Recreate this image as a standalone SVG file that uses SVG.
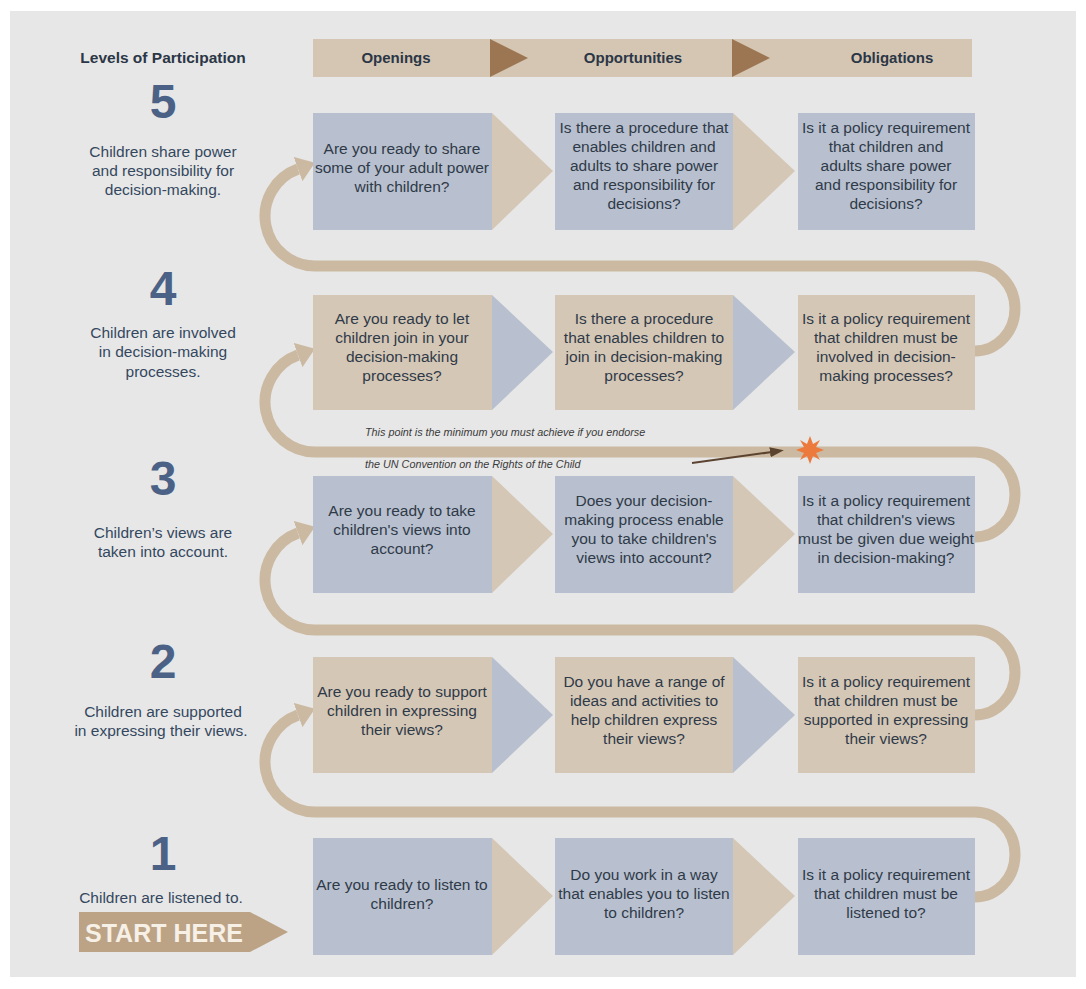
<svg xmlns="http://www.w3.org/2000/svg" width="1086" height="989" viewBox="0 0 1086 989">
<style>
.bg{fill:#e7e7e7}
.hdr{fill:#d5c6b3}
.hdrtri{fill:#9c7652}
.blue{fill:#b8c0cf}
.tan{fill:#d5c7b6}
.tt{font-family:"Liberation Sans",Arial,sans-serif;font-size:15.5px;fill:#2f3a48;text-anchor:middle}
.ht{font-family:"Liberation Sans",Arial,sans-serif;font-size:15px;font-weight:bold;fill:#2b3646;text-anchor:middle}
.num{font-family:"Liberation Sans",Arial,sans-serif;font-size:48px;font-weight:bold;fill:#4b6286;text-anchor:middle}
.lv{font-family:"Liberation Sans",Arial,sans-serif;font-size:15.5px;fill:#34475f;text-anchor:middle}
.note{font-family:"Liberation Sans",Arial,sans-serif;font-size:10.8px;font-style:italic;fill:#3a3a3a}
.loop{fill:none;stroke:#ccb9a1;stroke-width:11}
</style>
<defs>
<marker id="ah" markerUnits="userSpaceOnUse" markerWidth="20" markerHeight="26" refX="0" refY="13" orient="auto" viewBox="0 0 20 26">
<path d="M0,0 L18,13 L0,26 z" fill="#ccb9a1"/>
</marker>
<marker id="dah" markerUnits="userSpaceOnUse" markerWidth="14" markerHeight="10" refX="2" refY="5" orient="auto" viewBox="0 0 14 10">
<path d="M0,0 L14,5 L0,10 z" fill="#5b4330"/>
</marker>
</defs>
<rect x="0" y="0" width="1086" height="989" fill="#ffffff"/>
<rect class="bg" x="10" y="11" width="1066" height="966"/>

<g id="header">
<text class="ht" x="163" y="63" style="font-size:15.5px">Levels of Participation</text>
<rect class="hdr" x="313" y="39" width="659" height="38"/>
<polygon class="hdrtri" points="490,39 528,58 490,77"/>
<polygon class="hdrtri" points="732,39 770,58 732,77"/>
<text class="ht" x="396" y="63">Openings</text>
<text class="ht" x="633" y="63">Opportunities</text>
<text class="ht" x="892" y="63">Obligations</text>
</g>

<g id="connectors">
<path class="loop" d="M968 897 L975 897 A40 42.5 0 0 0 975 812 L316 812 A50 50 0 0 1 298 715" marker-end="url(#ah)"/>
<path class="loop" d="M968 715 L975 715 A40 42.5 0 0 0 975 630 L316 630 A50 50 0 0 1 298 533" marker-end="url(#ah)"/>
<path class="loop" d="M968 537 L975 537 A40 42.5 0 0 0 975 452 L316 452 A50 50 0 0 1 298 355" marker-end="url(#ah)"/>
<path class="loop" d="M968 351 L975 351 A40 42.5 0 0 0 975 266 L316 266 A50 50 0 0 1 298 169" marker-end="url(#ah)"/>
</g>

<g id="minimum-note">
<text class="note" x="365" y="436">This point is the minimum you must achieve if you endorse</text>
<text class="note" x="365" y="468">the UN Convention on the Rights of the Child</text>
<line x1="692" y1="463" x2="772" y2="452" stroke="#5b4330" stroke-width="2" marker-end="url(#dah)"/>
<polygon points="810,436 813,444 820,440 816,447 824,450 816,453 820,460 813,456 810,464 807,456 800,460 804,453 796,450 804,447 800,440 807,444" fill="#ec7a3c"/>
</g>

<g id="level5">
<text class="num" x="163" y="118">5</text>
<text class="lv" x="163" y="157">Children share power</text>
<text class="lv" x="163" y="176">and responsibility for</text>
<text class="lv" x="163" y="195">decision-making.</text>
</g>
<g id="level4">
<text class="num" x="163" y="305">4</text>
<text class="lv" x="163" y="338">Children are involved</text>
<text class="lv" x="163" y="357">in decision-making</text>
<text class="lv" x="163" y="377">processes.</text>
</g>
<g id="level3">
<text class="num" x="163" y="495">3</text>
<text class="lv" x="163" y="538">Children’s views are</text>
<text class="lv" x="163" y="557">taken into account.</text>
</g>
<g id="level2">
<text class="num" x="163" y="678">2</text>
<text class="lv" x="163" y="717">Children are supported</text>
<text class="lv" x="161" y="736">in expressing their views.</text>
</g>
<g id="level1">
<text class="num" x="163" y="870">1</text>
<text class="lv" x="161" y="903">Children are listened to.</text>
<polygon points="79,912 250,912 288,932 250,952 79,952" fill="#bca386"/>
<text x="85" y="942" style="font-family:'Liberation Sans',Arial,sans-serif;font-size:25px;font-weight:bold;fill:#f6f0e7">START HERE</text>
</g>

<!-- Row 5 -->
<g id="r5c1">
<polygon class="tan" points="492,113 553,171 492,230"/>
<rect class="blue" x="313" y="113" width="179" height="117"/>
<text class="tt" x="402" y="154">Are you ready to share</text>
<text class="tt" x="402" y="173">some of your adult power</text>
<text class="tt" x="402" y="192">with children?</text>
</g>
<g id="r5c2">
<polygon class="tan" points="733,113 795,171 733,230"/>
<rect class="blue" x="555" y="113" width="178" height="117"/>
<text class="tt" x="644" y="133">Is there a procedure that</text>
<text class="tt" x="644" y="152">enables children and</text>
<text class="tt" x="644" y="171">adults to share power</text>
<text class="tt" x="644" y="190">and responsibility for</text>
<text class="tt" x="644" y="209">decisions?</text>
</g>
<g id="r5c3">
<rect class="blue" x="798" y="113" width="177" height="117"/>
<text class="tt" x="886" y="133">Is it a policy requirement</text>
<text class="tt" x="886" y="152">that children and</text>
<text class="tt" x="886" y="171">adults share power</text>
<text class="tt" x="886" y="190">and responsibility for</text>
<text class="tt" x="886" y="209">decisions?</text>
</g>

<!-- Row 4 -->
<g id="r4c1">
<polygon class="blue" points="492,295 553,352 492,410"/>
<rect class="tan" x="313" y="295" width="179" height="115"/>
<text class="tt" x="402" y="324">Are you ready to let</text>
<text class="tt" x="402" y="343">children join in your</text>
<text class="tt" x="402" y="362">decision-making</text>
<text class="tt" x="402" y="381">processes?</text>
</g>
<g id="r4c2">
<polygon class="blue" points="733,295 795,352 733,410"/>
<rect class="tan" x="555" y="295" width="178" height="115"/>
<text class="tt" x="644" y="324">Is there a procedure</text>
<text class="tt" x="644" y="343">that enables children to</text>
<text class="tt" x="644" y="362">join in decision-making</text>
<text class="tt" x="644" y="381">processes?</text>
</g>
<g id="r4c3">
<rect class="tan" x="798" y="295" width="177" height="115"/>
<text class="tt" x="886" y="324">Is it a policy requirement</text>
<text class="tt" x="886" y="343">that children must be</text>
<text class="tt" x="886" y="362">involved in decision-</text>
<text class="tt" x="886" y="381">making processes?</text>
</g>

<!-- Row 3 -->
<g id="r3c1">
<polygon class="tan" points="492,476 553,534 492,593"/>
<rect class="blue" x="313" y="476" width="179" height="117"/>
<text class="tt" x="402" y="516">Are you ready to take</text>
<text class="tt" x="402" y="535">children's views into</text>
<text class="tt" x="402" y="554">account?</text>
</g>
<g id="r3c2">
<polygon class="tan" points="733,476 795,534 733,593"/>
<rect class="blue" x="555" y="476" width="178" height="117"/>
<text class="tt" x="644" y="506">Does your decision-</text>
<text class="tt" x="644" y="525">making process enable</text>
<text class="tt" x="644" y="544">you to take children's</text>
<text class="tt" x="644" y="563">views into account?</text>
</g>
<g id="r3c3">
<rect class="blue" x="798" y="476" width="177" height="117"/>
<text class="tt" x="886" y="506">Is it a policy requirement</text>
<text class="tt" x="886" y="525">that children's views</text>
<text class="tt" x="886" y="544">must be given due weight</text>
<text class="tt" x="886" y="563">in decision-making?</text>
</g>

<!-- Row 2 -->
<g id="r2c1">
<polygon class="blue" points="492,657 553,715 492,773"/>
<rect class="tan" x="313" y="657" width="179" height="116"/>
<text class="tt" x="402" y="697">Are you ready to support</text>
<text class="tt" x="402" y="716">children in expressing</text>
<text class="tt" x="402" y="735">their views?</text>
</g>
<g id="r2c2">
<polygon class="blue" points="733,657 795,715 733,773"/>
<rect class="tan" x="555" y="657" width="178" height="116"/>
<text class="tt" x="644" y="687">Do you have a range of</text>
<text class="tt" x="644" y="706">ideas and activities to</text>
<text class="tt" x="644" y="725">help children express</text>
<text class="tt" x="644" y="744">their views?</text>
</g>
<g id="r2c3">
<rect class="tan" x="798" y="657" width="177" height="116"/>
<text class="tt" x="886" y="687">Is it a policy requirement</text>
<text class="tt" x="886" y="706">that children must be</text>
<text class="tt" x="886" y="725">supported in expressing</text>
<text class="tt" x="886" y="744">their views?</text>
</g>

<!-- Row 1 -->
<g id="r1c1">
<polygon class="tan" points="492,838 553,896 492,955"/>
<rect class="blue" x="313" y="838" width="179" height="117"/>
<text class="tt" x="402" y="890">Are you ready to listen to</text>
<text class="tt" x="402" y="909">children?</text>
</g>
<g id="r1c2">
<polygon class="tan" points="733,838 795,896 733,955"/>
<rect class="blue" x="555" y="838" width="178" height="117"/>
<text class="tt" x="644" y="880">Do you work in a way</text>
<text class="tt" x="644" y="899">that enables you to listen</text>
<text class="tt" x="644" y="918">to children?</text>
</g>
<g id="r1c3">
<rect class="blue" x="798" y="838" width="177" height="117"/>
<text class="tt" x="886" y="880">Is it a policy requirement</text>
<text class="tt" x="886" y="899">that children must be</text>
<text class="tt" x="886" y="918">listened to?</text>
</g>
</svg>
